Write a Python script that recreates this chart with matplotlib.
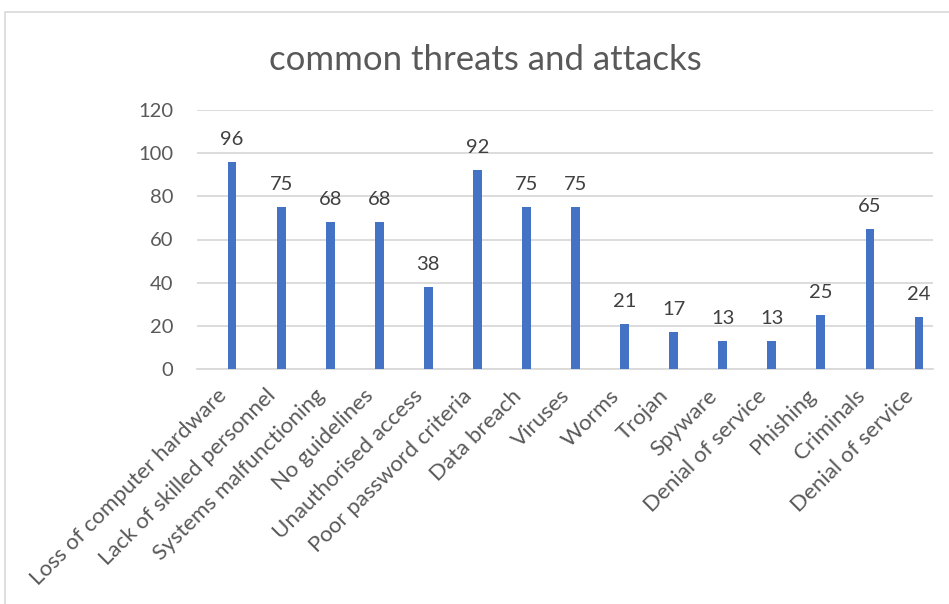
#!/usr/bin/env python3
"""Bar chart of common threats and attacks."""
import matplotlib
matplotlib.use('Agg')
import matplotlib.pyplot as plt
import matplotlib.transforms as mtrans
from matplotlib.patches import Rectangle

#-------------------------------------------------------------------------#
# Data                                                                    #
#-------------------------------------------------------------------------#
threats = ['Loss of computer hardware', 'Lack of skilled personnel',
           'Systems malfunctioning', 'No guidelines', 'Unauthorised access',
           'Poor password criteria', 'Data breach', 'Viruses', 'Worms',
           'Trojan', 'Spyware', 'Denial of service', 'Phishing',
           'Criminals', 'Denial of service']
counts = [96, 75, 68, 68, 38, 92, 75, 75, 21, 17, 13, 13, 25, 65, 24]
yticks = [0, 20, 40, 60, 80, 100, 120]

#-------------------------------------------------------------------------#
# Styling                                                                 #
#-------------------------------------------------------------------------#
plt.rcParams['font.family'] = ['Lato', 'DejaVu Sans']
bar_blue = '#4472C4'
grid_grey = '#D9D9D9'
text_grey = '#595959'
label_grey = '#404040'

fig = plt.figure(figsize=(9.49, 6.04), dpi=100)
ax = fig.add_axes([197/949, 1-369/604, (933-197)/949, (369-110)/604])

# chart area border (open to the right and bottom)
fig.patches.append(Rectangle((5/949, -0.5), 2.0, 0.5 + 1 - 12/604,
                             transform=fig.transFigure, fill=False,
                             edgecolor=grid_grey, linewidth=1.2))

#-------------------------------------------------------------------------#
# Bars (second slot of a clustered column, so shifted right)              #
#-------------------------------------------------------------------------#
x = list(range(len(threats)))
shift = 0.215
ax.bar([xi + shift for xi in x], counts, width=0.18, color=bar_blue,
       zorder=3)
for xi, v in zip(x, counts):
    ax.text(xi + shift, v + 6.5, str(v), ha='center', va='bottom',
            fontsize=14.5, color=label_grey)

#-------------------------------------------------------------------------#
# Axes                                                                    #
#-------------------------------------------------------------------------#
ax.set_xlim(-0.5, len(threats) - 0.5)
ax.set_ylim(0, 120)
ax.set_yticks(yticks)
ax.yaxis.grid(True, color=grid_grey, linewidth=1.3, zorder=0)
ax.tick_params(axis='y', length=0, pad=17, labelsize=14.5,
               labelcolor=text_grey)
ax.tick_params(axis='x', length=0, pad=12)
ax.set_xticks(x)
ax.set_xticklabels(threats, rotation=45, ha='right', rotation_mode='anchor',
                   fontsize=16, color=text_grey)
nudge = mtrans.ScaledTranslation(-5/100, 0, fig.dpi_scale_trans)
for lbl in ax.get_xticklabels():
    lbl.set_transform(lbl.get_transform() + nudge)
for side in ['top', 'right', 'left']:
    ax.spines[side].set_visible(False)
ax.spines['bottom'].set_color(grid_grey)
ax.spines['bottom'].set_linewidth(1.3)

fig.text(485/949, 1 - 60/604, 'common threats and attacks', ha='center',
         va='center', fontsize=25, color=text_grey)

fig.savefig('out.png', dpi=100)
